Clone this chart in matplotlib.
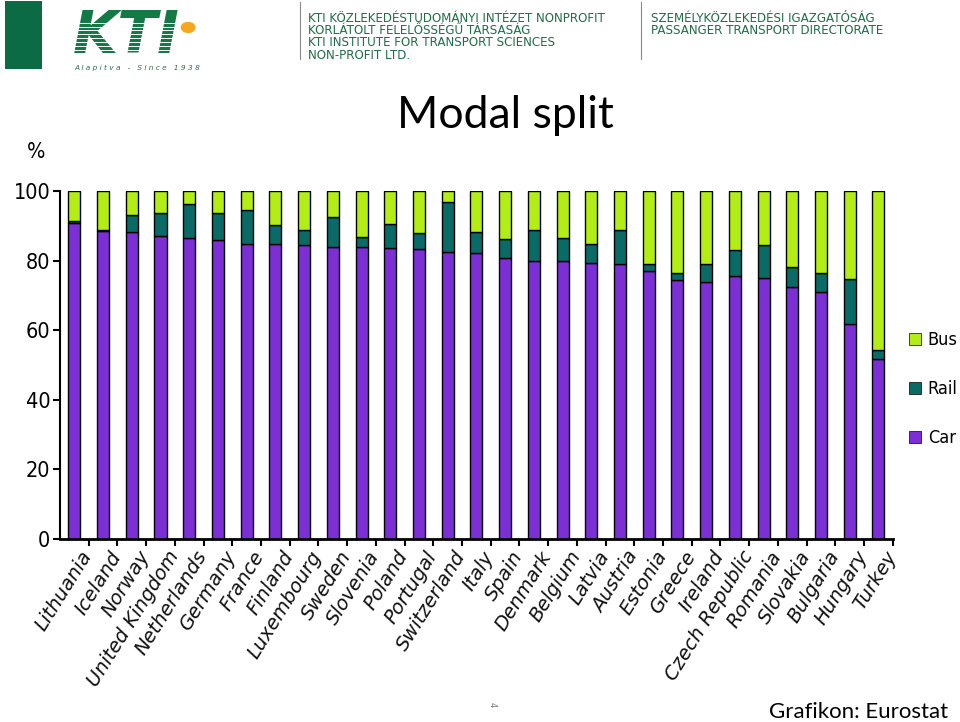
import matplotlib
matplotlib.use("Agg")
import matplotlib.pyplot as plt
import matplotlib.font_manager as fm
from matplotlib.patches import Rectangle, Circle, Patch
from matplotlib.lines import Line2D

# ----------------------------
# DATA (share of passenger-km, %)
# ----------------------------
countries = [
    "Lithuania", "Iceland", "Norway", "United Kingdom", "Netherlands",
    "Germany", "France", "Finland", "Luxembourg", "Sweden", "Slovenia",
    "Poland", "Portugal", "Switzerland", "Italy", "Spain", "Denmark",
    "Belgium", "Latvia", "Austria", "Estonia", "Greece", "Ireland",
    "Czech Republic", "Romania", "Slovakia", "Bulgaria", "Hungary", "Turkey",
]
car = [90.7, 88.5, 88.1, 87.2, 86.6, 85.9, 84.8, 84.8, 84.5, 84.0, 83.9,
       83.5, 83.3, 82.5, 82.2, 80.7, 79.9, 79.9, 79.3, 79.0, 77.1, 74.5,
       73.7, 75.6, 75.1, 72.4, 71.1, 61.7, 51.6]
rail = [0.8, 0.2, 4.9, 6.4, 9.6, 7.7, 9.6, 5.3, 4.2, 8.6, 2.9,
        6.9, 4.7, 14.2, 6.0, 5.4, 9.0, 6.7, 5.6, 9.9, 2.0, 1.9,
        5.2, 7.4, 9.5, 5.8, 5.2, 13.0, 2.7]
bus = [100 - c - r for c, r in zip(car, rail)]
ticks = [0, 20, 40, 60, 80, 100]

C_CAR = "#7d2fd6"
C_RAIL = "#0a6a66"
C_BUS = "#b2ee16"

# ----------------------------
# pick a condensed face if one is installed
# ----------------------------
narrow_file = None
for f in fm.fontManager.ttflist:
    if f.style != "normal" or f.weight not in (400, "normal", "regular"):
        continue
    if ("Narrow" in f.name or "Condensed" in f.name
            or f.stretch in ("condensed", "semi-condensed")):
        narrow_file = f.fname
        break

if narrow_file:
    def nprop(size):
        return fm.FontProperties(fname=narrow_file, size=size)
else:
    def nprop(size):
        return fm.FontProperties(family="Liberation Sans", size=size)
num_size, leg_size = 15.5, 13

# ----------------------------
# FIGURE
# ----------------------------
fig = plt.figure(figsize=(9.6, 7.22), dpi=100)
ax = fig.add_axes([0.0625, 0.2535, 0.8675, 0.482])

x = list(range(len(countries)))
w = 0.42
ax.bar(x, car, w, color=C_CAR, edgecolor="black", linewidth=1)
ax.bar(x, rail, w, bottom=car, color=C_RAIL, edgecolor="black", linewidth=1)
bottom2 = [c + r for c, r in zip(car, rail)]
ax.bar(x, bus, w, bottom=bottom2, color=C_BUS, edgecolor="black", linewidth=1)

ax.set_xlim(-0.5, len(countries) - 0.5)
ax.set_ylim(0, 100)
ax.set_yticks(ticks)
ax.set_yticklabels([str(t) for t in ticks])
for lab in ax.get_yticklabels():
    lab.set_fontproperties(nprop(num_size))
ax.tick_params(axis="y", length=5, width=1.5, pad=2)

ax.set_xticks([i + 0.5 for i in x])
ax.set_xticklabels([])
ax.tick_params(axis="x", length=5, width=1.5, direction="out")
for i, name in enumerate(countries):
    ax.text(i + 0.2, -2.5, name, rotation=58, rotation_mode="anchor",
            ha="right", va="top", fontsize=14, style="oblique",
            color="#111111")

for s in ["top", "right"]:
    ax.spines[s].set_visible(False)
ax.spines["bottom"].set_linewidth(2)
ax.spines["left"].set_linewidth(1.5)

# legend
handles = [Patch(facecolor=C_BUS, edgecolor="black", linewidth=0.5),
           Patch(facecolor=C_RAIL, edgecolor="black", linewidth=0.5),
           Patch(facecolor=C_CAR, edgecolor="black", linewidth=0.5)]
fig.legend(handles, ["Bus", "Rail", "Car"], loc="center left",
           bbox_to_anchor=(0.947, 0.461), frameon=False,
           prop=nprop(leg_size), borderaxespad=0,
           handlelength=0.68, handleheight=0.68, handletextpad=0.35,
           labelspacing=1.72, borderpad=0)

# texts
fig.text(0.526, 0.84, "Modal split", ha="center", va="center",
         fontsize=32, family="Lato", color="black")
fig.text(0.028, 0.79, "%", ha="left", va="center",
         fontproperties=nprop(num_size))
fig.text(0.988, 0.0, "Grafikon: Eurostat", ha="right", va="bottom",
         fontsize=16, family="Lato", color="black")
fig.text(0.513, 0.024, "4", ha="center", va="center", fontsize=6,
         rotation=-90, color="#777777")

# ----------------------------
# HEADER
# ----------------------------
green = "#0b6b45"
fig.add_artist(Rectangle((0.005, 0.905), 0.039, 0.094, transform=fig.transFigure,
                         facecolor=green, edgecolor="none"))
fig.text(0.076, 0.949, "KTI", fontsize=42, fontweight="bold", style="italic",
         color="#137a45", ha="left", va="center", family="DejaVu Sans")
for k in range(10):
    yy = 0.920 + k * 0.0054
    fig.add_artist(Line2D([0.07, 0.215], [yy, yy], transform=fig.transFigure,
                          color="white", linewidth=0.7, zorder=5))
fig.add_artist(Circle((0.196, 0.962), 0.0078, transform=fig.transFigure,
                      facecolor="#f4a71f", edgecolor="none", zorder=6))
fig.text(0.078, 0.906, "A l a p í t v a   -   S i n c e   1 9 3 8",
         fontsize=5.3, style="italic", color="#2e6f4a", ha="left",
         va="center")

for xx in [0.3125, 0.668]:
    fig.add_artist(Line2D([xx, xx], [0.918, 0.997], transform=fig.transFigure,
                          color="#8a8a8a", linewidth=0.8))
lines_l = ["KTI KÖZLEKEDÉSTUDOMÁNYI INTÉZET NONPROFIT",
           "KORLÁTOLT FELELŐSSÉGŰ TÁRSASÁG",
           "KTI INSTITUTE FOR TRANSPORT SCIENCES",
           "NON-PROFIT LTD."]
for k, t in enumerate(lines_l):
    fig.text(0.321, 0.975 - k * 0.0172, t, fontsize=8.6, color="#1f6e46",
             ha="left", va="center")
lines_r = ["SZEMÉLYKÖZLEKEDÉSI IGAZGATÓSÁG",
           "PASSANGER TRANSPORT DIRECTORATE"]
for k, t in enumerate(lines_r):
    fig.text(0.678, 0.975 - k * 0.0172, t, fontsize=8.6, color="#1f6e46",
             ha="left", va="center")

plt.savefig("out.png", dpi=100)
